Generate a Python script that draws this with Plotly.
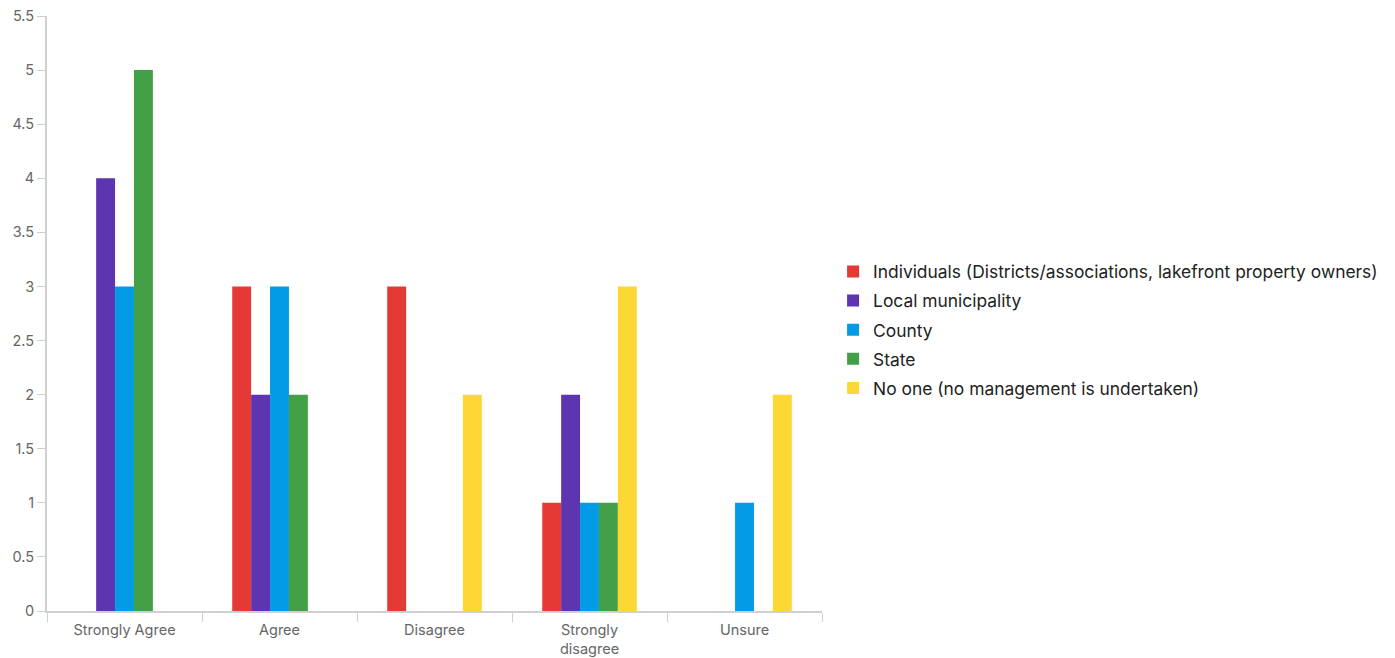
import plotly.graph_objects as go

categories = ["Strongly Agree", "Agree", "Disagree", "Strongly<br>disagree", "Unsure"]
series_names = [
    "Individuals (Districts/associations, lakefront property owners)",
    "Local municipality",
    "County",
    "State",
    "No one (no management is undertaken)",
]
individuals = [0, 3, 3, 1, 0]
local_municipality = [4, 2, 0, 2, 0]
county = [3, 3, 0, 1, 1]
state = [5, 2, 0, 1, 0]
no_one = [0, 0, 2, 3, 2]
colors = ["#E53935", "#5E35B1", "#039BE5", "#43A047", "#FDD835"]
y_ticks = [0, 0.5, 1, 1.5, 2, 2.5, 3, 3.5, 4, 4.5, 5, 5.5]
y_tick_labels = ["0", "0.5", "1", "1.5", "2", "2.5", "3", "3.5", "4", "4.5", "5", "5.5"]

series_values = [individuals, local_municipality, county, state, no_one]

fig = go.Figure()
for i, (name, vals, col) in enumerate(zip(series_names, series_values, colors)):
    fig.add_trace(go.Bar(x=categories, y=vals, name=name, marker_color=col,
                         marker_line_width=0, legendgroup=f"g{i}"))

fig.update_layout(
    width=1395, height=658,
    barmode="group", bargap=0.39, bargroupgap=0,
    plot_bgcolor="white", paper_bgcolor="white",
    margin=dict(l=39, r=581, t=8, b=55, autoexpand=False),
    font=dict(family="Inter, Roboto, sans-serif", color="#666666", size=14),
    legend=dict(x=1.0143, xanchor="left", y=0.472, yanchor="middle",
                font=dict(size=17.4, color="#222222"), tracegroupgap=3.5,
                itemwidth=30),
    showlegend=True,
)
fig.update_xaxes(
    type="category", showline=True, linecolor="#d0d0d0", linewidth=2,
    ticks="outside", tickson="boundaries", ticklen=9, tickcolor="#d0d0d0",
    ticklabelstandoff=5,
    tickfont=dict(size=14.5, color="#666666"), showgrid=False, zeroline=False,
)
fig.update_yaxes(
    range=[0, 5.5], tickmode="array", tickvals=y_ticks, ticktext=y_tick_labels,
    ticklabeloverflow="allow",
    showline=True, linecolor="#d0d0d0", linewidth=2,
    ticks="outside", ticklen=8, tickcolor="#d0d0d0", showgrid=False,
    zeroline=False, tickfont=dict(size=14.5, color="#666666"),
)

fig.write_html("out.html")
